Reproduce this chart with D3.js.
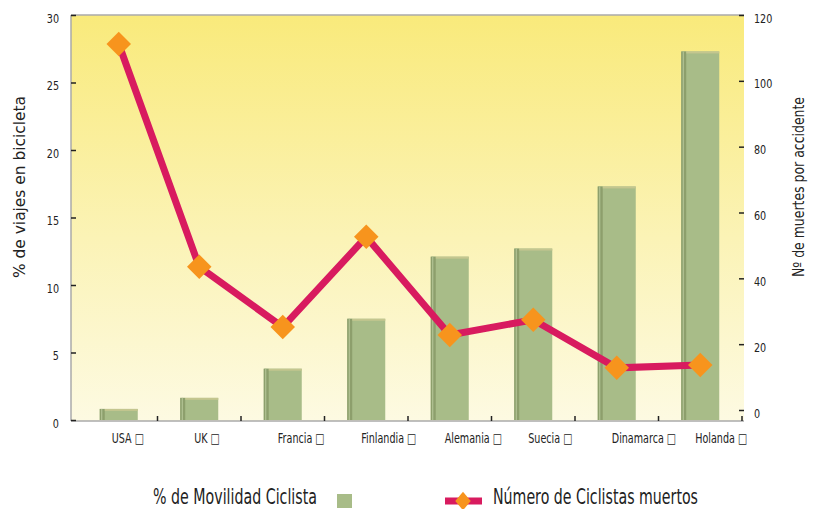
<!DOCTYPE html>
<html lang="es">
<meta charset="UTF-8" />
<title>Movilidad ciclista</title>
<style>
  body { margin: 0; background: #fff; }
  svg text { font-family: "DejaVu Sans", sans-serif; fill: #222; }
</style>
<script src="https://d3js.org/d3.v7.min.js"></script>
<body>
<div id="chart"></div>
<script>
  // data
  const paises = ["USA", "UK", "Francia", "Finlandia", "Alemania", "Suecia", "Dinamarca", "Holanda"];
  const movilidad = [0.82, 1.64, 3.8, 7.5, 12.1, 12.7, 17.3, 27.3];
  const muertos = [111.2, 43.5, 25.2, 52.6, 22.8, 27.4, 12.8, 13.7];
  const ticksIzq = [0, 5, 10, 15, 20, 25, 30];
  const ticksDer = [0, 20, 40, 60, 80, 100, 120];

  const W = 813, H = 509;
  const svg = d3.select("#chart").append("svg").attr("width", W).attr("height", H);

  const pLeft = 71, pRight = 744, pTop = 15, pBottom = 421;

  const x = d3.scaleBand().domain(paises).range([74, 742]).paddingInner(0).paddingOuter(0);
  const yL = d3.scaleLinear().domain([0, 30]).range([420, 15]);
  const yR = d3.scaleLinear().domain([0, 120]).range([410, 15]);

  // squeeze text horizontally (no condensed font installed)
  function condense(sel, k) {
    sel.each(function () {
      const w = this.getComputedTextLength();
      d3.select(this).attr("textLength", w * k).attr("lengthAdjust", "spacingAndGlyphs");
    });
  }

  // background gradient
  const defs = svg.append("defs");
  const grad = defs.append("linearGradient").attr("id", "bg").attr("x1", 0).attr("y1", 0).attr("x2", 0).attr("y2", 1);
  grad.append("stop").attr("offset", "0%").attr("stop-color", "#f9ea7b");
  grad.append("stop").attr("offset", "55%").attr("stop-color", "#fbf3b6");
  grad.append("stop").attr("offset", "100%").attr("stop-color", "#fdfae2");

  svg.append("rect").attr("x", pLeft).attr("y", pTop).attr("width", pRight - pLeft).attr("height", pBottom - pTop)
    .attr("fill", "url(#bg)");
  svg.append("line").attr("x1", pLeft).attr("x2", pRight).attr("y1", pTop).attr("y2", pTop)
    .attr("stroke", "#aaa").attr("stroke-width", 1.5);

  // bars
  const bw = 38;
  const cxOf = (p, i) => x(p) + x.bandwidth() / 2 + (i === 0 ? 3 : 0);
  const bars = svg.append("g");
  paises.forEach((p, i) => {
    const cx = cxOf(p, i);
    const y0 = yL(movilidad[i]);
    const h = yL(0) - y0;
    bars.append("rect").attr("x", cx - bw / 2).attr("y", y0).attr("width", bw).attr("height", h).attr("fill", "#a8bc88");
    bars.append("rect").attr("x", cx - bw / 2).attr("y", y0).attr("width", 5).attr("height", h).attr("fill", "#8d9f6c");
    bars.append("rect").attr("x", cx - bw / 2 + 1.5).attr("y", y0).attr("width", 1).attr("height", h).attr("fill", "#b9c99a");
    bars.append("rect").attr("x", cx - bw / 2 + 5).attr("y", y0).attr("width", bw - 5).attr("height", 2).attr("fill", "#c4c68f");
  });

  // axes
  const axB = svg.append("g").attr("transform", `translate(0,${pBottom})`)
    .call(d3.axisBottom(x).tickSize(0).tickFormat(""));
  axB.select(".domain").attr("d", `M${pLeft},0H${pRight}`).attr("stroke", "#aaa").attr("stroke-width", 1.5);
  const sep = d3.range(1, paises.length + 1).map(i => 74 + i * x.bandwidth());
  svg.append("g").selectAll("line").data(sep).join("line")
    .attr("x1", d => d).attr("x2", d => d).attr("y1", pBottom).attr("y2", pBottom - 5)
    .attr("stroke", "#222").attr("stroke-width", 1.5);

  const cats = svg.append("g").selectAll("text").data(paises).join("text")
    .attr("x", (d, i) => cxOf(d, i) - (i === 0 ? 7 : 5))
    .attr("y", 443).attr("font-size", 13.5).text(d => d + " \u25A1");
  condense(cats, 0.71);

  const axL = svg.append("g").attr("transform", `translate(${pLeft},0)`)
    .call(d3.axisRight(yL).tickValues(ticksIzq).tickSize(5).tickFormat(d3.format("d")));
  axL.select(".domain").attr("d", `M0,${pTop}V${pBottom}`).attr("stroke", "#aaa").attr("stroke-width", 1.5);
  axL.selectAll(".tick line").attr("stroke", "#222").attr("stroke-width", 1.5);
  axL.selectAll(".tick text").attr("x", -12).attr("dy", "0.55em").attr("text-anchor", "end")
    .attr("font-size", 13).attr("fill", "#222");
  condense(axL.selectAll(".tick text"), 0.74);

  const axR = svg.append("g").attr("transform", `translate(${pRight},0)`)
    .call(d3.axisLeft(yR).tickValues(ticksDer).tickSize(5).tickFormat(d3.format("d")));
  axR.select(".domain").remove();
  axR.selectAll(".tick line").attr("stroke", "#222").attr("stroke-width", 1.5);
  axR.selectAll(".tick text").attr("x", 10).attr("dy", "0.55em").attr("text-anchor", "start")
    .attr("font-size", 13).attr("fill", "#222");
  condense(axR.selectAll(".tick text"), 0.74);

  svg.append("text").attr("transform", "translate(25,187) rotate(-90)").attr("text-anchor", "middle")
    .attr("font-size", 15.5).attr("textLength", 182).attr("lengthAdjust", "spacingAndGlyphs")
    .text("% de viajes en bicicleta");
  svg.append("text").attr("transform", "translate(804,187) rotate(-90)").attr("text-anchor", "middle")
    .attr("font-size", 16).attr("textLength", 180).attr("lengthAdjust", "spacingAndGlyphs")
    .text("Nº de muertes por accidente");

  // line
  const pts = paises.map((p, i) => [cxOf(p, i), yR(muertos[i])]);
  svg.append("path").attr("d", d3.line()(pts)).attr("fill", "none")
    .attr("stroke", "#d81b5f").attr("stroke-width", 7).attr("stroke-linejoin", "miter");
  const diamond = d3.symbol().type(d3.symbolSquare).size(300);
  svg.append("g").selectAll("path").data(pts).join("path")
    .attr("d", diamond).attr("transform", d => `translate(${d[0]},${d[1]}) rotate(45)`)
    .attr("fill", "#f7941d");

  // legend
  svg.append("text").attr("x", 153).attr("y", 504).attr("font-size", 21)
    .attr("textLength", 164).attr("lengthAdjust", "spacingAndGlyphs").text("% de Movilidad Ciclista");
  svg.append("rect").attr("x", 337).attr("y", 494).attr("width", 15).attr("height", 14).attr("fill", "#a8bc88");
  svg.append("line").attr("x1", 445).attr("x2", 482).attr("y1", 501).attr("y2", 501)
    .attr("stroke", "#d81b5f").attr("stroke-width", 7);
  svg.append("path").attr("d", d3.symbol().type(d3.symbolSquare).size(120)())
    .attr("transform", "translate(463,501) scale(1,1.2) rotate(45)").attr("fill", "#f7941d");
  svg.append("text").attr("x", 493).attr("y", 504).attr("font-size", 21)
    .attr("textLength", 205).attr("lengthAdjust", "spacingAndGlyphs").text("Número de Ciclistas muertos");
</script>
</body>
</html>
